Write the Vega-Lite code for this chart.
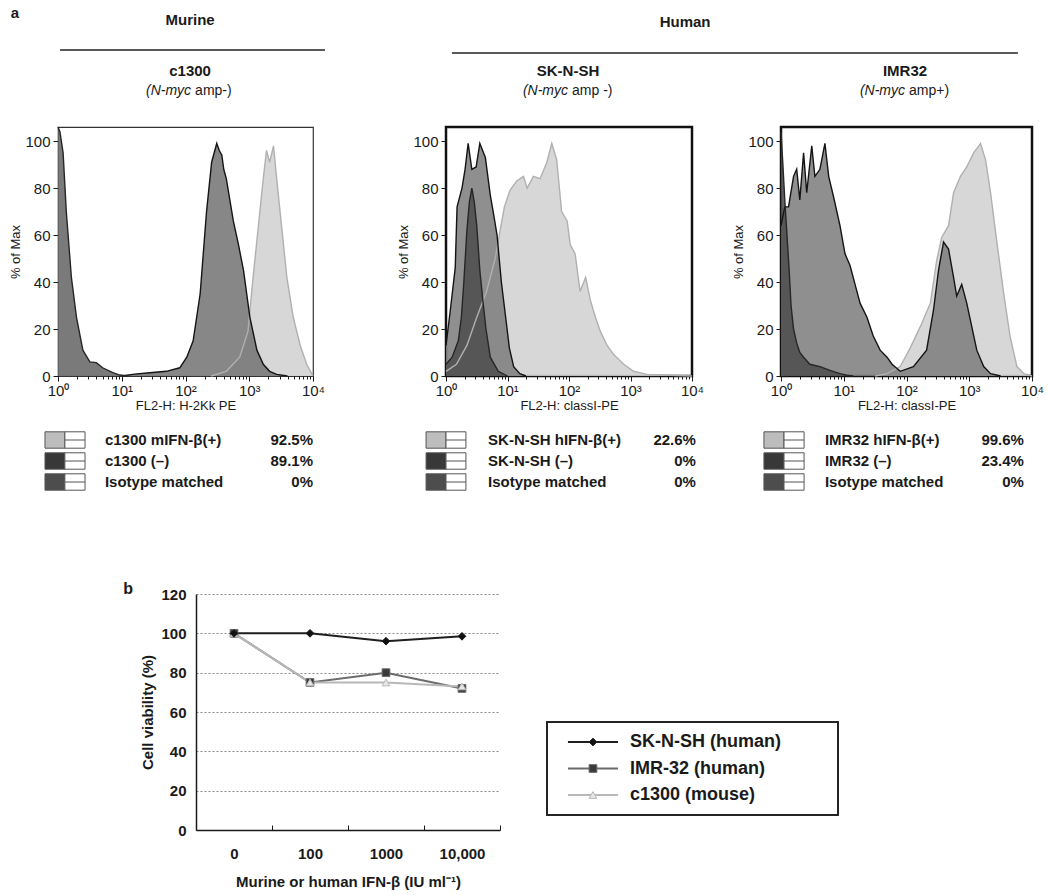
{
 "$schema": "https://vega.github.io/schema/vega-lite/v6.json",
 "background": "white",
 "padding": {"left": 9, "top": 0, "right": 5, "bottom": 5},
 "config": {"font": "Liberation Sans", "view": {"stroke": null}, "axis": {"labelColor": "#1a1a1a", "titleColor": "#1a1a1a", "tickColor": "#1a1a1a", "domainColor": "#1a1a1a"}, "text": {"color": "#1a1a1a"}},
 "datasets": {
  "hist": [
   {"panel":"c1300","grp":"ifn","logfl":2.4,"pct":0},{"panel":"c1300","grp":"ifn","logfl":2.64,"pct":2},{"panel":"c1300","grp":"ifn","logfl":2.85,"pct":8},{"panel":"c1300","grp":"ifn","logfl":2.98,"pct":19},{"panel":"c1300","grp":"ifn","logfl":3.06,"pct":42},{"panel":"c1300","grp":"ifn","logfl":3.14,"pct":63},{"panel":"c1300","grp":"ifn","logfl":3.22,"pct":84},{"panel":"c1300","grp":"ifn","logfl":3.27,"pct":96},{"panel":"c1300","grp":"ifn","logfl":3.32,"pct":91},{"panel":"c1300","grp":"ifn","logfl":3.38,"pct":98},{"panel":"c1300","grp":"ifn","logfl":3.43,"pct":84},{"panel":"c1300","grp":"ifn","logfl":3.51,"pct":63},{"panel":"c1300","grp":"ifn","logfl":3.59,"pct":42},{"panel":"c1300","grp":"ifn","logfl":3.69,"pct":25},{"panel":"c1300","grp":"ifn","logfl":3.8,"pct":13},{"panel":"c1300","grp":"ifn","logfl":3.9,"pct":5},{"panel":"c1300","grp":"ifn","logfl":3.98,"pct":1},{"panel":"c1300","grp":"ifn","logfl":4.0,"pct":0},
   {"panel":"c1300","grp":"neg","logfl":1.0,"pct":0},{"panel":"c1300","grp":"neg","logfl":1.2,"pct":0.8},{"panel":"c1300","grp":"neg","logfl":1.44,"pct":1.4},{"panel":"c1300","grp":"neg","logfl":1.7,"pct":2},{"panel":"c1300","grp":"neg","logfl":1.91,"pct":3.5},{"panel":"c1300","grp":"neg","logfl":2.02,"pct":8},{"panel":"c1300","grp":"neg","logfl":2.12,"pct":15},{"panel":"c1300","grp":"neg","logfl":2.23,"pct":35},{"panel":"c1300","grp":"neg","logfl":2.33,"pct":70},{"panel":"c1300","grp":"neg","logfl":2.41,"pct":91},{"panel":"c1300","grp":"neg","logfl":2.49,"pct":99},{"panel":"c1300","grp":"neg","logfl":2.53,"pct":96},{"panel":"c1300","grp":"neg","logfl":2.57,"pct":94},{"panel":"c1300","grp":"neg","logfl":2.6,"pct":88},{"panel":"c1300","grp":"neg","logfl":2.64,"pct":84},{"panel":"c1300","grp":"neg","logfl":2.75,"pct":66},{"panel":"c1300","grp":"neg","logfl":2.83,"pct":56},{"panel":"c1300","grp":"neg","logfl":2.91,"pct":45},{"panel":"c1300","grp":"neg","logfl":3.01,"pct":25},{"panel":"c1300","grp":"neg","logfl":3.12,"pct":11},{"panel":"c1300","grp":"neg","logfl":3.22,"pct":5},{"panel":"c1300","grp":"neg","logfl":3.32,"pct":2},{"panel":"c1300","grp":"neg","logfl":3.43,"pct":0.7},{"panel":"c1300","grp":"neg","logfl":3.6,"pct":0},
   {"panel":"c1300","grp":"iso","logfl":0,"pct":106},{"panel":"c1300","grp":"iso","logfl":0.03,"pct":104},{"panel":"c1300","grp":"iso","logfl":0.08,"pct":95},{"panel":"c1300","grp":"iso","logfl":0.13,"pct":70},{"panel":"c1300","grp":"iso","logfl":0.21,"pct":42},{"panel":"c1300","grp":"iso","logfl":0.29,"pct":25},{"panel":"c1300","grp":"iso","logfl":0.39,"pct":11},{"panel":"c1300","grp":"iso","logfl":0.5,"pct":6},{"panel":"c1300","grp":"iso","logfl":0.6,"pct":5.7},{"panel":"c1300","grp":"iso","logfl":0.7,"pct":3.5},{"panel":"c1300","grp":"iso","logfl":0.86,"pct":1.4},{"panel":"c1300","grp":"iso","logfl":0.97,"pct":0.4},{"panel":"c1300","grp":"iso","logfl":1.1,"pct":0},
   {"panel":"sknsh","grp":"ifn","logfl":0,"pct":2},{"panel":"sknsh","grp":"ifn","logfl":0.17,"pct":5},{"panel":"sknsh","grp":"ifn","logfl":0.34,"pct":13},{"panel":"sknsh","grp":"ifn","logfl":0.5,"pct":25},{"panel":"sknsh","grp":"ifn","logfl":0.66,"pct":36},{"panel":"sknsh","grp":"ifn","logfl":0.8,"pct":50},{"panel":"sknsh","grp":"ifn","logfl":0.88,"pct":62},{"panel":"sknsh","grp":"ifn","logfl":0.95,"pct":72},{"panel":"sknsh","grp":"ifn","logfl":1.04,"pct":79},{"panel":"sknsh","grp":"ifn","logfl":1.15,"pct":83},{"panel":"sknsh","grp":"ifn","logfl":1.26,"pct":85},{"panel":"sknsh","grp":"ifn","logfl":1.32,"pct":80},{"panel":"sknsh","grp":"ifn","logfl":1.42,"pct":85},{"panel":"sknsh","grp":"ifn","logfl":1.53,"pct":84},{"panel":"sknsh","grp":"ifn","logfl":1.64,"pct":91},{"panel":"sknsh","grp":"ifn","logfl":1.72,"pct":99},{"panel":"sknsh","grp":"ifn","logfl":1.8,"pct":92},{"panel":"sknsh","grp":"ifn","logfl":1.88,"pct":70},{"panel":"sknsh","grp":"ifn","logfl":1.97,"pct":66},{"panel":"sknsh","grp":"ifn","logfl":2.02,"pct":56},{"panel":"sknsh","grp":"ifn","logfl":2.1,"pct":52},{"panel":"sknsh","grp":"ifn","logfl":2.18,"pct":36},{"panel":"sknsh","grp":"ifn","logfl":2.27,"pct":42},{"panel":"sknsh","grp":"ifn","logfl":2.35,"pct":32},{"panel":"sknsh","grp":"ifn","logfl":2.43,"pct":25},{"panel":"sknsh","grp":"ifn","logfl":2.51,"pct":19},{"panel":"sknsh","grp":"ifn","logfl":2.62,"pct":13},{"panel":"sknsh","grp":"ifn","logfl":2.73,"pct":9},{"panel":"sknsh","grp":"ifn","logfl":2.89,"pct":5},{"panel":"sknsh","grp":"ifn","logfl":3.05,"pct":2},{"panel":"sknsh","grp":"ifn","logfl":3.27,"pct":0.7},{"panel":"sknsh","grp":"ifn","logfl":3.65,"pct":0.3},{"panel":"sknsh","grp":"ifn","logfl":4.0,"pct":0},
   {"panel":"sknsh","grp":"neg","logfl":0,"pct":13},{"panel":"sknsh","grp":"neg","logfl":0.07,"pct":28},{"panel":"sknsh","grp":"neg","logfl":0.15,"pct":46},{"panel":"sknsh","grp":"neg","logfl":0.18,"pct":72},{"panel":"sknsh","grp":"neg","logfl":0.26,"pct":80},{"panel":"sknsh","grp":"neg","logfl":0.31,"pct":88},{"panel":"sknsh","grp":"neg","logfl":0.36,"pct":99},{"panel":"sknsh","grp":"neg","logfl":0.42,"pct":88},{"panel":"sknsh","grp":"neg","logfl":0.49,"pct":89},{"panel":"sknsh","grp":"neg","logfl":0.55,"pct":99},{"panel":"sknsh","grp":"neg","logfl":0.64,"pct":93},{"panel":"sknsh","grp":"neg","logfl":0.72,"pct":77},{"panel":"sknsh","grp":"neg","logfl":0.78,"pct":68},{"panel":"sknsh","grp":"neg","logfl":0.83,"pct":60},{"panel":"sknsh","grp":"neg","logfl":0.9,"pct":40},{"panel":"sknsh","grp":"neg","logfl":0.97,"pct":25},{"panel":"sknsh","grp":"neg","logfl":1.03,"pct":12},{"panel":"sknsh","grp":"neg","logfl":1.1,"pct":4},{"panel":"sknsh","grp":"neg","logfl":1.2,"pct":1},{"panel":"sknsh","grp":"neg","logfl":1.3,"pct":0},
   {"panel":"sknsh","grp":"iso","logfl":0,"pct":5},{"panel":"sknsh","grp":"iso","logfl":0.1,"pct":8},{"panel":"sknsh","grp":"iso","logfl":0.2,"pct":15},{"panel":"sknsh","grp":"iso","logfl":0.25,"pct":25},{"panel":"sknsh","grp":"iso","logfl":0.29,"pct":40},{"panel":"sknsh","grp":"iso","logfl":0.34,"pct":62},{"panel":"sknsh","grp":"iso","logfl":0.38,"pct":74},{"panel":"sknsh","grp":"iso","logfl":0.42,"pct":80},{"panel":"sknsh","grp":"iso","logfl":0.46,"pct":74},{"panel":"sknsh","grp":"iso","logfl":0.5,"pct":64},{"panel":"sknsh","grp":"iso","logfl":0.55,"pct":45},{"panel":"sknsh","grp":"iso","logfl":0.6,"pct":32},{"panel":"sknsh","grp":"iso","logfl":0.65,"pct":20},{"panel":"sknsh","grp":"iso","logfl":0.72,"pct":8},{"panel":"sknsh","grp":"iso","logfl":0.85,"pct":2},{"panel":"sknsh","grp":"iso","logfl":1.0,"pct":0},
   {"panel":"imr32","grp":"ifn","logfl":1.5,"pct":0},{"panel":"imr32","grp":"ifn","logfl":1.69,"pct":1},{"panel":"imr32","grp":"ifn","logfl":1.9,"pct":4},{"panel":"imr32","grp":"ifn","logfl":2.06,"pct":12},{"panel":"imr32","grp":"ifn","logfl":2.22,"pct":21},{"panel":"imr32","grp":"ifn","logfl":2.38,"pct":31},{"panel":"imr32","grp":"ifn","logfl":2.48,"pct":49},{"panel":"imr32","grp":"ifn","logfl":2.56,"pct":59},{"panel":"imr32","grp":"ifn","logfl":2.67,"pct":64},{"panel":"imr32","grp":"ifn","logfl":2.75,"pct":78},{"panel":"imr32","grp":"ifn","logfl":2.86,"pct":85},{"panel":"imr32","grp":"ifn","logfl":2.96,"pct":89},{"panel":"imr32","grp":"ifn","logfl":3.07,"pct":95},{"panel":"imr32","grp":"ifn","logfl":3.18,"pct":99},{"panel":"imr32","grp":"ifn","logfl":3.26,"pct":92},{"panel":"imr32","grp":"ifn","logfl":3.34,"pct":78},{"panel":"imr32","grp":"ifn","logfl":3.44,"pct":57},{"panel":"imr32","grp":"ifn","logfl":3.55,"pct":35},{"panel":"imr32","grp":"ifn","logfl":3.65,"pct":17},{"panel":"imr32","grp":"ifn","logfl":3.76,"pct":4},{"panel":"imr32","grp":"ifn","logfl":3.87,"pct":1},{"panel":"imr32","grp":"ifn","logfl":4.0,"pct":0},
   {"panel":"imr32","grp":"neg","logfl":0,"pct":64},{"panel":"imr32","grp":"neg","logfl":0.06,"pct":72},{"panel":"imr32","grp":"neg","logfl":0.12,"pct":72},{"panel":"imr32","grp":"neg","logfl":0.2,"pct":85},{"panel":"imr32","grp":"neg","logfl":0.25,"pct":88},{"panel":"imr32","grp":"neg","logfl":0.3,"pct":75},{"panel":"imr32","grp":"neg","logfl":0.36,"pct":95},{"panel":"imr32","grp":"neg","logfl":0.41,"pct":78},{"panel":"imr32","grp":"neg","logfl":0.49,"pct":98},{"panel":"imr32","grp":"neg","logfl":0.54,"pct":85},{"panel":"imr32","grp":"neg","logfl":0.62,"pct":88},{"panel":"imr32","grp":"neg","logfl":0.7,"pct":99},{"panel":"imr32","grp":"neg","logfl":0.76,"pct":85},{"panel":"imr32","grp":"neg","logfl":0.84,"pct":76},{"panel":"imr32","grp":"neg","logfl":0.94,"pct":64},{"panel":"imr32","grp":"neg","logfl":1.02,"pct":52},{"panel":"imr32","grp":"neg","logfl":1.1,"pct":47},{"panel":"imr32","grp":"neg","logfl":1.18,"pct":39},{"panel":"imr32","grp":"neg","logfl":1.26,"pct":31},{"panel":"imr32","grp":"neg","logfl":1.37,"pct":25},{"panel":"imr32","grp":"neg","logfl":1.47,"pct":17},{"panel":"imr32","grp":"neg","logfl":1.58,"pct":11},{"panel":"imr32","grp":"neg","logfl":1.69,"pct":8},{"panel":"imr32","grp":"neg","logfl":1.77,"pct":5},{"panel":"imr32","grp":"neg","logfl":1.9,"pct":2},{"panel":"imr32","grp":"neg","logfl":2.11,"pct":4},{"panel":"imr32","grp":"neg","logfl":2.32,"pct":11},{"panel":"imr32","grp":"neg","logfl":2.43,"pct":28},{"panel":"imr32","grp":"neg","logfl":2.51,"pct":45},{"panel":"imr32","grp":"neg","logfl":2.59,"pct":57},{"panel":"imr32","grp":"neg","logfl":2.67,"pct":54},{"panel":"imr32","grp":"neg","logfl":2.75,"pct":42},{"panel":"imr32","grp":"neg","logfl":2.8,"pct":34},{"panel":"imr32","grp":"neg","logfl":2.88,"pct":39},{"panel":"imr32","grp":"neg","logfl":2.96,"pct":31},{"panel":"imr32","grp":"neg","logfl":3.04,"pct":21},{"panel":"imr32","grp":"neg","logfl":3.12,"pct":11},{"panel":"imr32","grp":"neg","logfl":3.23,"pct":4},{"panel":"imr32","grp":"neg","logfl":3.34,"pct":1},{"panel":"imr32","grp":"neg","logfl":3.5,"pct":0},
   {"panel":"imr32","grp":"iso","logfl":0,"pct":104},{"panel":"imr32","grp":"iso","logfl":0.03,"pct":90},{"panel":"imr32","grp":"iso","logfl":0.06,"pct":75},{"panel":"imr32","grp":"iso","logfl":0.1,"pct":58},{"panel":"imr32","grp":"iso","logfl":0.13,"pct":45},{"panel":"imr32","grp":"iso","logfl":0.16,"pct":30},{"panel":"imr32","grp":"iso","logfl":0.2,"pct":20},{"panel":"imr32","grp":"iso","logfl":0.25,"pct":14},{"panel":"imr32","grp":"iso","logfl":0.3,"pct":10},{"panel":"imr32","grp":"iso","logfl":0.36,"pct":8},{"panel":"imr32","grp":"iso","logfl":0.46,"pct":5},{"panel":"imr32","grp":"iso","logfl":0.62,"pct":4},{"panel":"imr32","grp":"iso","logfl":0.78,"pct":2.4},{"panel":"imr32","grp":"iso","logfl":0.94,"pct":1},{"panel":"imr32","grp":"iso","logfl":1.05,"pct":0.3},{"panel":"imr32","grp":"iso","logfl":1.15,"pct":0}
  ],
  "leg": [
   {"panel":"c1300","row":1,"grp":"ifn","label":"c1300 mIFN-β(+)","pct":"92.5%"},
   {"panel":"c1300","row":2,"grp":"neg","label":"c1300 (–)","pct":"89.1%"},
   {"panel":"c1300","row":3,"grp":"iso","label":"Isotype matched","pct":"0%"},
   {"panel":"sknsh","row":1,"grp":"ifn","label":"SK-N-SH hIFN-β(+)","pct":"22.6%"},
   {"panel":"sknsh","row":2,"grp":"neg","label":"SK-N-SH (–)","pct":"0%"},
   {"panel":"sknsh","row":3,"grp":"iso","label":"Isotype matched","pct":"0%"},
   {"panel":"imr32","row":1,"grp":"ifn","label":"IMR32 hIFN-β(+)","pct":"99.6%"},
   {"panel":"imr32","row":2,"grp":"neg","label":"IMR32  (–)","pct":"23.4%"},
   {"panel":"imr32","row":3,"grp":"iso","label":"Isotype matched","pct":"0%"}
  ],
  "viab": [
   {"cell":"IMR-32 (human)","dose":"0","viability":100},{"cell":"IMR-32 (human)","dose":"100","viability":75},{"cell":"IMR-32 (human)","dose":"1000","viability":80},{"cell":"IMR-32 (human)","dose":"10,000","viability":72},
   {"cell":"c1300 (mouse)","dose":"0","viability":100},{"cell":"c1300 (mouse)","dose":"100","viability":75},{"cell":"c1300 (mouse)","dose":"1000","viability":75},{"cell":"c1300 (mouse)","dose":"10,000","viability":73},
   {"cell":"SK-N-SH (human)","dose":"0","viability":100},{"cell":"SK-N-SH (human)","dose":"100","viability":100},{"cell":"SK-N-SH (human)","dose":"1000","viability":96},{"cell":"SK-N-SH (human)","dose":"10,000","viability":98.5}
  ]
 },
 "hconcat": [
  {"vconcat": [
    {"width": 255, "height": 127, "data": {"values": [{}]},
     "layer": [
      {"mark": {"type": "text", "text": "a", "fontSize": 15, "fontWeight": "bold", "align": "center", "baseline": "middle"}, "encoding": {"x": {"datum": -0.169, "type": "quantitative", "scale": {"domain": [0, 1]}, "axis": null}, "y": {"datum": 0.102, "type": "quantitative", "scale": {"domain": [0, 1], "reverse": true}, "axis": null}}},
      {"mark": {"type": "text", "text": "Murine", "fontSize": 15, "fontWeight": "bold", "align": "center", "baseline": "middle"}, "encoding": {"x": {"datum": 0.518, "type": "quantitative"}, "y": {"datum": 0.157, "type": "quantitative"}}},
      {"mark": {"type": "rule", "stroke": "#222", "strokeWidth": 1.5}, "encoding": {"x": {"datum": 0.008, "type": "quantitative"}, "x2": {"datum": 1.047}, "y": {"datum": 0.394, "type": "quantitative"}}},
      {"mark": {"type": "text", "text": "c1300", "fontSize": 15, "fontWeight": "bold", "align": "center", "baseline": "middle"}, "encoding": {"x": {"datum": 0.518, "type": "quantitative"}, "y": {"datum": 0.559, "type": "quantitative"}}},
      {"mark": {"type": "text", "text": "(N-myc", "fontSize": 14, "fontStyle": "italic", "align": "right", "baseline": "middle", "dx": 1}, "encoding": {"x": {"datum": 0.518, "type": "quantitative"}, "y": {"datum": 0.717, "type": "quantitative"}}},
      {"mark": {"type": "text", "text": "amp-)", "fontSize": 14, "align": "left", "baseline": "middle", "dx": 5}, "encoding": {"x": {"datum": 0.518, "type": "quantitative"}, "y": {"datum": 0.717, "type": "quantitative"}}}
     ]},
    {"width": 255, "height": 249, "view": {"stroke": "#333", "strokeWidth": 1.2},
     "data": {"name": "hist"}, "transform": [{"filter": "datum.panel === 'c1300'"}],
     "layer": [
      {"mark": {"type": "area", "fillOpacity": 0.88},
       "encoding": {
        "x": {"field": "logfl", "type": "quantitative", "scale": {"domain": [0, 4], "nice": false}, "axis": {"values": [0, 1, 2, 3, 4], "labelExpr": "'10' + ['⁰','¹','²','³','⁴'][datum.value]", "title": "FL2-H: H-2Kk PE", "labelFontSize": 15, "titleFontSize": 13, "titleFontWeight": "normal", "tickSize": 5, "labelPadding": 2, "titlePadding": 1, "domain": false, "grid": false, "labelFlush": false}},
        "y": {"field": "pct", "type": "quantitative", "stack": null, "scale": {"domain": [0, 106], "nice": false}, "axis": {"values": [0, 20, 40, 60, 80, 100], "title": "% of Max", "titleFontSize": 13, "titleFontWeight": "normal", "titlePadding": 2, "labelFontSize": 15, "tickSize": 5, "labelPadding": 3, "domain": false, "grid": false}},
        "fill": {"field": "grp", "type": "nominal", "scale": {"domain": ["ifn", "neg", "iso"], "range": ["#d2d2d2", "#767676", "#686868"]}, "legend": null}}},
      {"mark": {"type": "line", "strokeWidth": 1.4},
       "encoding": {
        "x": {"field": "logfl", "type": "quantitative", "axis": {"values": [0.301,0.477,0.602,0.699,0.778,0.845,0.903,0.954,1.301,1.477,1.602,1.699,1.778,1.845,1.903,1.954,2.301,2.477,2.602,2.699,2.778,2.845,2.903,2.954,3.301,3.477,3.602,3.699,3.778,3.845,3.903,3.954], "labels": false, "title": null, "tickSize": 3, "domain": false, "grid": false, "orient": "bottom"}},
        "y": {"field": "pct", "type": "quantitative", "stack": null},
        "stroke": {"field": "grp", "type": "nominal", "scale": {"domain": ["ifn", "neg", "iso"], "range": ["#b0b0b0", "#141414", "#262626"]}, "legend": null}}}
     ],
     "resolve": {"axis": {"x": "independent"}}},
    {"width": 255, "height": 218, "data": {"name": "leg"}, "transform": [{"filter": "datum.panel === 'c1300'"}],
     "encoding": {"y": {"field": "row", "type": "ordinal", "axis": null, "scale": {"range": [53.5, 116.5], "paddingInner": 0.22, "paddingOuter": 0.11}}},
     "layer": [
      {"mark": {"type": "rect", "stroke": "#555", "strokeWidth": 1}, "encoding": {"x": {"datum": -0.051, "type": "quantitative", "scale": {"domain": [0, 1]}, "axis": null}, "x2": {"datum": 0.027}, "fill": {"field": "grp", "type": "nominal", "scale": {"domain": ["ifn", "neg", "iso"], "range": ["#bdbdbd", "#383838", "#4d4d4d"]}, "legend": null}}},
      {"mark": {"type": "rect", "fill": "white", "stroke": "#555", "strokeWidth": 1}, "encoding": {"x": {"datum": 0.027, "type": "quantitative"}, "x2": {"datum": 0.106}}},
      {"mark": {"type": "rule", "stroke": "#555", "strokeWidth": 1}, "encoding": {"x": {"datum": 0.027, "type": "quantitative"}, "x2": {"datum": 0.106}, "y": {"field": "row", "type": "ordinal", "bandPosition": 0.5}}},
      {"mark": {"type": "text", "align": "left", "baseline": "middle", "fontSize": 15, "fontWeight": "bold"}, "encoding": {"x": {"datum": 0.184, "type": "quantitative"}, "y": {"field": "row", "type": "ordinal", "bandPosition": 0.5}, "text": {"field": "label"}}},
      {"mark": {"type": "text", "align": "right", "baseline": "middle", "fontSize": 15, "fontWeight": "bold"}, "encoding": {"x": {"datum": 1.0, "type": "quantitative"}, "y": {"field": "row", "type": "ordinal", "bandPosition": 0.5}, "text": {"field": "pct"}}}
     ]},
    {"hconcat": [
      {"width": 91, "height": 236, "data": {"values": [{}]}, "mark": {"type": "text", "text": "b", "fontSize": 16, "fontWeight": "bold", "align": "center", "baseline": "middle"}, "encoding": {"x": {"datum": 0.77, "type": "quantitative", "scale": {"domain": [0, 1]}, "axis": null}, "y": {"datum": 1.02, "type": "quantitative", "scale": {"domain": [0, 1]}, "axis": null}}},
      {"width": 304, "height": 236, "data": {"name": "viab"},
       "layer": [
        {"mark": {"type": "line", "strokeWidth": 2},
         "encoding": {
          "x": {"field": "dose", "type": "ordinal", "sort": ["0", "100", "1000", "10,000"], "bandPosition": 0.5, "scale": {"type": "band", "paddingInner": 0, "paddingOuter": 0}, "axis": {"title": "Murine or human IFN-β (IU ml⁻¹)", "labelAngle": 0, "labelFontSize": 15, "labelFontWeight": "bold", "titleFontSize": 15, "titleFontWeight": "bold", "tickBand": "extent", "tickSize": -5, "labelPadding": 21, "titlePadding": 13, "domainWidth": 1.5, "grid": false}},
          "y": {"field": "viability", "type": "quantitative", "scale": {"domain": [0, 120], "nice": false}, "axis": {"values": [0, 20, 40, 60, 80, 100, 120], "tickCount": 7, "labelOverlap": false, "title": "Cell viability (%)", "labelFontSize": 15, "labelFontWeight": "bold", "titleFontSize": 15, "titleFontWeight": "bold", "tickSize": 0, "labelPadding": 10, "titlePadding": 5, "grid": true, "gridDash": [2, 2], "gridColor": "#8a8a8a", "gridWidth": 1, "domainWidth": 1.5}},
          "stroke": {"field": "cell", "type": "nominal", "scale": {"domain": ["SK-N-SH (human)", "IMR-32 (human)", "c1300 (mouse)"], "range": ["#1e1e1e", "#6b6b6b", "#b8b8b8"]}, "legend": null}}},
        {"mark": {"type": "point", "filled": true, "size": 60, "opacity": 1, "strokeWidth": 1},
         "encoding": {
          "x": {"field": "dose", "type": "ordinal", "sort": ["0", "100", "1000", "10,000"], "bandPosition": 0.5},
          "y": {"field": "viability", "type": "quantitative"},
          "shape": {"field": "cell", "type": "nominal", "scale": {"domain": ["SK-N-SH (human)", "IMR-32 (human)", "c1300 (mouse)"], "range": ["diamond", "square", "triangle-up"]}, "legend": null},
          "fill": {"field": "cell", "type": "nominal", "scale": {"domain": ["SK-N-SH (human)", "IMR-32 (human)", "c1300 (mouse)"], "range": ["#111111", "#3a3a3a", "#e6e6e6"]}, "legend": null},
          "stroke": {"field": "cell", "type": "nominal", "legend": null}}}
       ]},
      {"width": 291, "height": 236, "data": {"name": "viab"}, "transform": [{"filter": "datum.dose === '0'"}],
       "layer": [
        {"mark": {"type": "rect", "fill": null, "fillOpacity": 0, "stroke": "#222", "strokeWidth": 1.5},
         "encoding": {"x": {"datum": 0, "type": "quantitative", "scale": {"domain": [0, 1]}, "axis": null}, "x2": {"datum": 1}, "y": {"datum": 0.542, "type": "quantitative", "scale": {"domain": [0, 1], "reverse": true}, "axis": null}, "y2": {"datum": 0.936}}},
        {"encoding": {"y": {"field": "cell", "type": "nominal", "sort": ["SK-N-SH (human)", "IMR-32 (human)", "c1300 (mouse)"], "axis": null, "bandPosition": 0.5, "scale": {"type": "band", "range": [128, 221], "paddingInner": 0, "paddingOuter": 0.255}}},
         "layer": [
          {"mark": {"type": "rule", "strokeWidth": 2}, "encoding": {"x": {"datum": 0.072, "type": "quantitative"}, "x2": {"datum": 0.244}, "stroke": {"field": "cell", "type": "nominal", "scale": {"domain": ["SK-N-SH (human)", "IMR-32 (human)", "c1300 (mouse)"], "range": ["#1e1e1e", "#6b6b6b", "#b8b8b8"]}, "legend": null}}},
          {"mark": {"type": "point", "filled": true, "size": 60, "opacity": 1, "strokeWidth": 1}, "encoding": {"x": {"datum": 0.158, "type": "quantitative"}, "shape": {"field": "cell", "type": "nominal", "scale": {"domain": ["SK-N-SH (human)", "IMR-32 (human)", "c1300 (mouse)"], "range": ["diamond", "square", "triangle-up"]}, "legend": null}, "fill": {"field": "cell", "type": "nominal", "scale": {"domain": ["SK-N-SH (human)", "IMR-32 (human)", "c1300 (mouse)"], "range": ["#111111", "#3a3a3a", "#e6e6e6"]}, "legend": null}, "stroke": {"field": "cell", "type": "nominal", "legend": null}}},
          {"mark": {"type": "text", "align": "left", "baseline": "middle", "fontSize": 18, "fontWeight": "bold"}, "encoding": {"x": {"datum": 0.285, "type": "quantitative"}, "text": {"field": "cell"}}}
         ]}
       ],
       "resolve": {"scale": {"y": "independent"}}}
     ], "spacing": 47, "bounds": "flush", "resolve": {"scale": {"fill": "independent", "stroke": "independent", "shape": "independent"}}}
   ], "spacing": 0, "bounds": "flush", "resolve": {"scale": {"fill": "independent", "stroke": "independent", "shape": "independent"}}},
  {"hconcat": [
    {"vconcat": [
      {"width": 246, "height": 127, "data": {"values": [{}]},
       "layer": [
        {"mark": {"type": "text", "text": "Human", "fontSize": 15, "fontWeight": "bold", "align": "center", "baseline": "middle"}, "encoding": {"x": {"datum": 0.972, "type": "quantitative", "scale": {"domain": [0, 1]}, "axis": null}, "y": {"datum": 0.173, "type": "quantitative", "scale": {"domain": [0, 1], "reverse": true}, "axis": null}}},
        {"mark": {"type": "rule", "stroke": "#222", "strokeWidth": 1.5}, "encoding": {"x": {"datum": 0.024, "type": "quantitative"}, "x2": {"datum": 2.325}, "y": {"datum": 0.417, "type": "quantitative"}}},
        {"mark": {"type": "text", "text": "SK-N-SH", "fontSize": 15, "fontWeight": "bold", "align": "center", "baseline": "middle"}, "encoding": {"x": {"datum": 0.496, "type": "quantitative"}, "y": {"datum": 0.559, "type": "quantitative"}}},
        {"mark": {"type": "text", "text": "(N-myc", "fontSize": 14, "fontStyle": "italic", "align": "right", "baseline": "middle", "dx": 0}, "encoding": {"x": {"datum": 0.496, "type": "quantitative"}, "y": {"datum": 0.717, "type": "quantitative"}}},
        {"mark": {"type": "text", "text": "amp -)", "fontSize": 14, "align": "left", "baseline": "middle", "dx": 4}, "encoding": {"x": {"datum": 0.496, "type": "quantitative"}, "y": {"datum": 0.717, "type": "quantitative"}}}
       ]},
      {"width": 246, "height": 249, "view": {"stroke": "#111", "strokeWidth": 2.5},
       "data": {"name": "hist"}, "transform": [{"filter": "datum.panel === 'sknsh'"}],
       "layer": [
        {"mark": {"type": "area", "fillOpacity": 0.88},
         "encoding": {
          "x": {"field": "logfl", "type": "quantitative", "scale": {"domain": [0, 4], "nice": false}, "axis": {"values": [0, 1, 2, 3, 4], "labelExpr": "'10' + ['⁰','¹','²','³','⁴'][datum.value]", "title": "FL2-H: classI-PE", "labelFontSize": 15, "titleFontSize": 13, "titleFontWeight": "normal", "tickSize": 5, "labelPadding": 2, "titlePadding": 1, "domain": false, "grid": false, "labelFlush": false}},
          "y": {"field": "pct", "type": "quantitative", "stack": null, "scale": {"domain": [0, 106], "nice": false}, "axis": {"values": [0, 20, 40, 60, 80, 100], "title": "% of Max", "titleFontSize": 13, "titleFontWeight": "normal", "titlePadding": 2, "labelFontSize": 15, "tickSize": 5, "labelPadding": 3, "domain": false, "grid": false}},
          "fill": {"field": "grp", "type": "nominal", "scale": {"domain": ["ifn", "neg", "iso"], "range": ["#d2d2d2", "#808080", "#4e4e4e"]}, "legend": null}}},
        {"mark": {"type": "line", "strokeWidth": 1.4},
         "encoding": {
          "x": {"field": "logfl", "type": "quantitative", "axis": {"values": [0.301,0.477,0.602,0.699,0.778,0.845,0.903,0.954,1.301,1.477,1.602,1.699,1.778,1.845,1.903,1.954,2.301,2.477,2.602,2.699,2.778,2.845,2.903,2.954,3.301,3.477,3.602,3.699,3.778,3.845,3.903,3.954], "labels": false, "title": null, "tickSize": 3, "domain": false, "grid": false, "orient": "bottom"}},
          "y": {"field": "pct", "type": "quantitative", "stack": null},
          "stroke": {"field": "grp", "type": "nominal", "scale": {"domain": ["ifn", "neg", "iso"], "range": ["#b0b0b0", "#141414", "#262626"]}, "legend": null}}}
       ],
       "resolve": {"axis": {"x": "independent"}}},
      {"width": 246, "height": 218, "data": {"name": "leg"}, "transform": [{"filter": "datum.panel === 'sknsh'"}],
       "encoding": {"y": {"field": "row", "type": "ordinal", "axis": null, "scale": {"range": [53.5, 116.5], "paddingInner": 0.22, "paddingOuter": 0.11}}},
       "layer": [
        {"mark": {"type": "rect", "stroke": "#555", "strokeWidth": 1}, "encoding": {"x": {"datum": -0.081, "type": "quantitative", "scale": {"domain": [0, 1]}, "axis": null}, "x2": {"datum": 0.0}, "fill": {"field": "grp", "type": "nominal", "scale": {"domain": ["ifn", "neg", "iso"], "range": ["#bdbdbd", "#383838", "#4d4d4d"]}, "legend": null}}},
        {"mark": {"type": "rect", "fill": "white", "stroke": "#555", "strokeWidth": 1}, "encoding": {"x": {"datum": 0.0, "type": "quantitative"}, "x2": {"datum": 0.081}}},
        {"mark": {"type": "rule", "stroke": "#555", "strokeWidth": 1}, "encoding": {"x": {"datum": 0.0, "type": "quantitative"}, "x2": {"datum": 0.081}, "y": {"field": "row", "type": "ordinal", "bandPosition": 0.5}}},
        {"mark": {"type": "text", "align": "left", "baseline": "middle", "fontSize": 15, "fontWeight": "bold"}, "encoding": {"x": {"datum": 0.171, "type": "quantitative"}, "y": {"field": "row", "type": "ordinal", "bandPosition": 0.5}, "text": {"field": "label"}}},
        {"mark": {"type": "text", "align": "right", "baseline": "middle", "fontSize": 15, "fontWeight": "bold"}, "encoding": {"x": {"datum": 1.016, "type": "quantitative"}, "y": {"field": "row", "type": "ordinal", "bandPosition": 0.5}, "text": {"field": "pct"}}}
       ]}
     ], "spacing": 0, "bounds": "flush", "resolve": {"scale": {"fill": "independent", "stroke": "independent"}}},
    {"vconcat": [
      {"width": 251, "height": 127, "data": {"values": [{}]},
       "layer": [
        {"mark": {"type": "text", "text": "IMR32", "fontSize": 15, "fontWeight": "bold", "align": "center", "baseline": "middle"}, "encoding": {"x": {"datum": 0.494, "type": "quantitative", "scale": {"domain": [0, 1]}, "axis": null}, "y": {"datum": 0.559, "type": "quantitative", "scale": {"domain": [0, 1], "reverse": true}, "axis": null}}},
        {"mark": {"type": "text", "text": "(N-myc", "fontSize": 14, "fontStyle": "italic", "align": "right", "baseline": "middle", "dx": 0}, "encoding": {"x": {"datum": 0.494, "type": "quantitative"}, "y": {"datum": 0.717, "type": "quantitative"}}},
        {"mark": {"type": "text", "text": "amp+)", "fontSize": 14, "align": "left", "baseline": "middle", "dx": 4}, "encoding": {"x": {"datum": 0.494, "type": "quantitative"}, "y": {"datum": 0.717, "type": "quantitative"}}}
       ]},
      {"width": 251, "height": 249, "view": {"stroke": "#111", "strokeWidth": 2.5},
       "data": {"name": "hist"}, "transform": [{"filter": "datum.panel === 'imr32'"}],
       "layer": [
        {"mark": {"type": "area", "fillOpacity": 0.88},
         "encoding": {
          "x": {"field": "logfl", "type": "quantitative", "scale": {"domain": [0, 4], "nice": false}, "axis": {"values": [0, 1, 2, 3, 4], "labelExpr": "'10' + ['⁰','¹','²','³','⁴'][datum.value]", "title": "FL2-H: classI-PE", "labelFontSize": 15, "titleFontSize": 13, "titleFontWeight": "normal", "tickSize": 5, "labelPadding": 2, "titlePadding": 1, "domain": false, "grid": false, "labelFlush": false}},
          "y": {"field": "pct", "type": "quantitative", "stack": null, "scale": {"domain": [0, 106], "nice": false}, "axis": {"values": [0, 20, 40, 60, 80, 100], "title": "% of Max", "titleFontSize": 13, "titleFontWeight": "normal", "titlePadding": 2, "labelFontSize": 15, "tickSize": 5, "labelPadding": 3, "domain": false, "grid": false}},
          "fill": {"field": "grp", "type": "nominal", "scale": {"domain": ["ifn", "neg", "iso"], "range": ["#d2d2d2", "#808080", "#4e4e4e"]}, "legend": null}}},
        {"mark": {"type": "line", "strokeWidth": 1.4},
         "encoding": {
          "x": {"field": "logfl", "type": "quantitative", "axis": {"values": [0.301,0.477,0.602,0.699,0.778,0.845,0.903,0.954,1.301,1.477,1.602,1.699,1.778,1.845,1.903,1.954,2.301,2.477,2.602,2.699,2.778,2.845,2.903,2.954,3.301,3.477,3.602,3.699,3.778,3.845,3.903,3.954], "labels": false, "title": null, "tickSize": 3, "domain": false, "grid": false, "orient": "bottom"}},
          "y": {"field": "pct", "type": "quantitative", "stack": null},
          "stroke": {"field": "grp", "type": "nominal", "scale": {"domain": ["ifn", "neg", "iso"], "range": ["#b0b0b0", "#141414", "#262626"]}, "legend": null}}}
       ],
       "resolve": {"axis": {"x": "independent"}}},
      {"width": 251, "height": 218, "data": {"name": "leg"}, "transform": [{"filter": "datum.panel === 'imr32'"}],
       "encoding": {"y": {"field": "row", "type": "ordinal", "axis": null, "scale": {"range": [53.5, 116.5], "paddingInner": 0.22, "paddingOuter": 0.11}}},
       "layer": [
        {"mark": {"type": "rect", "stroke": "#555", "strokeWidth": 1}, "encoding": {"x": {"datum": -0.068, "type": "quantitative", "scale": {"domain": [0, 1]}, "axis": null}, "x2": {"datum": 0.012}, "fill": {"field": "grp", "type": "nominal", "scale": {"domain": ["ifn", "neg", "iso"], "range": ["#bdbdbd", "#383838", "#4d4d4d"]}, "legend": null}}},
        {"mark": {"type": "rect", "fill": "white", "stroke": "#555", "strokeWidth": 1}, "encoding": {"x": {"datum": 0.012, "type": "quantitative"}, "x2": {"datum": 0.092}}},
        {"mark": {"type": "rule", "stroke": "#555", "strokeWidth": 1}, "encoding": {"x": {"datum": 0.012, "type": "quantitative"}, "x2": {"datum": 0.092}, "y": {"field": "row", "type": "ordinal", "bandPosition": 0.5}}},
        {"mark": {"type": "text", "align": "left", "baseline": "middle", "fontSize": 15, "fontWeight": "bold"}, "encoding": {"x": {"datum": 0.175, "type": "quantitative"}, "y": {"field": "row", "type": "ordinal", "bandPosition": 0.5}, "text": {"field": "label"}}},
        {"mark": {"type": "text", "align": "right", "baseline": "middle", "fontSize": 15, "fontWeight": "bold"}, "encoding": {"x": {"datum": 0.968, "type": "quantitative"}, "y": {"field": "row", "type": "ordinal", "bandPosition": 0.5}, "text": {"field": "pct"}}}
       ]}
     ], "spacing": 0, "bounds": "flush", "resolve": {"scale": {"fill": "independent", "stroke": "independent"}}}
   ], "spacing": 335, "bounds": "flush", "resolve": {"scale": {"fill": "independent", "stroke": "independent"}}}
 ],
 "spacing": 388,
 "bounds": "flush",
 "resolve": {"scale": {"fill": "independent", "stroke": "independent", "shape": "independent"}}
}
